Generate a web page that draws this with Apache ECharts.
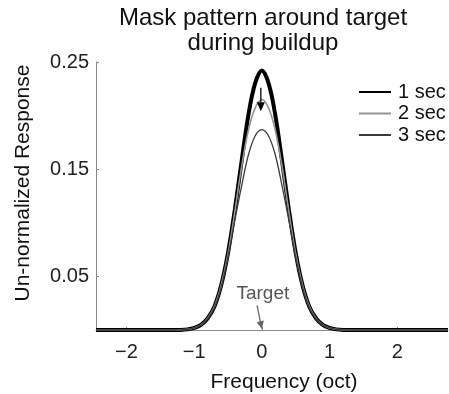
<!DOCTYPE html>
<html>
<head>
<meta charset="utf-8">
<script src="https://cdn.jsdelivr.net/npm/echarts@6/dist/echarts.min.js"></script>
<style>
html,body{margin:0;padding:0;background:#fff;}
#c{width:449px;height:394px;}
</style>
</head>
<body>
<div id="c"></div>
<script>
// Frequency (oct) sample positions
const xs = [-2.45, -1.6, -1.3, -1.2, -1.1, -1.0, -0.9, -0.8, -0.7, -0.6, -0.5, -0.4, -0.3, -0.2, -0.1, 0,
            0.1, 0.2, 0.3, 0.4, 0.5, 0.6, 0.7, 0.8, 0.9, 1.0, 1.1, 1.2, 1.3, 1.6, 2.75];
// Un-normalized response
const sec1 = [0, 0, 0, 0.0001, 0.0006, 0.0019, 0.0047, 0.011, 0.022, 0.042, 0.072, 0.112, 0.157, 0.200, 0.230, 0.242,
              0.230, 0.200, 0.157, 0.112, 0.072, 0.042, 0.022, 0.011, 0.0047, 0.0019, 0.0006, 0.0001, 0, 0, 0];
const sec2 = [0, 0, 0, 0.0001, 0.0006, 0.0019, 0.0047, 0.011, 0.022, 0.042, 0.071, 0.110, 0.152, 0.186, 0.207, 0.215,
              0.207, 0.186, 0.152, 0.110, 0.071, 0.042, 0.022, 0.011, 0.0047, 0.0019, 0.0006, 0.0001, 0, 0, 0];
const sec3 = [0, 0, 0, 0.0001, 0.0006, 0.0019, 0.0047, 0.0105, 0.021, 0.040, 0.068, 0.102, 0.134, 0.163, 0.181, 0.187,
              0.181, 0.163, 0.134, 0.102, 0.068, 0.040, 0.021, 0.0105, 0.0047, 0.0019, 0.0006, 0.0001, 0, 0, 0];
const seriesNames = ['1 sec', '2 sec', '3 sec'];
const yTicks = [0.05, 0.15, 0.25];
const xTicks = [-2, -1, 0, 1, 2];
// annotation anchor points (data space)
const targetArrow = [[-0.07, 0.023], [0, 0.0008]];
const peakArrow = [[-0.015, 0.226], [-0.015, 0.204]];
const targetLabel = [0.015, 0.0335];

const FONT = '"Liberation Sans", Arial, sans-serif';
const pair = (arr) => xs.map((x, i) => [x, arr[i]]);

const chart = echarts.init(document.getElementById('c'), null, {renderer: 'canvas'});
chart.setOption({
  animation: false,
  backgroundColor: '#fff',
  title: {
    text: 'Mask pattern around target\nduring buildup',
    left: 258, top: 1, textAlign: 'center',
    textStyle: {fontFamily: FONT, fontSize: 24, fontWeight: 'normal', color: '#111', lineHeight: 25}
  },
  legend: {
    data: seriesNames,
    orient: 'vertical', left: 358, top: 82, padding: 0,
    itemWidth: 32, itemHeight: 14, itemGap: 1.5,
    itemStyle: {opacity: 0},
    textStyle: {fontFamily: FONT, fontSize: 20, color: '#111', padding: [0,0,0,2]}
  },
  grid: {left: 96, right: 1, top: 62, bottom: 64, containLabel: false, outerBoundsMode: 'none'},
  xAxis: {
    type: 'value', min: -2.45, max: 2.75,
    name: 'Frequency (oct)', nameLocation: 'middle', nameGap: 42,
    nameTextStyle: {fontFamily: FONT, fontSize: 21, color: '#111', padding: [0,0,0,24]},
    axisLine: {onZero: false, lineStyle: {color: '#888', width: 1}},
    axisTick: {show: true, inside: true, length: 3, customValues: xTicks, lineStyle: {color: '#888'}},
    axisLabel: {customValues: xTicks, margin: 12, fontFamily: FONT, fontSize: 20, color: '#222',
      formatter: v => (v < 0 ? '\u2212' + Math.abs(v) : String(v))},
    splitLine: {show: false}
  },
  yAxis: {
    type: 'value', min: 0, max: 0.25,
    name: 'Un-normalized Response', nameLocation: 'middle', nameGap: 62,
    nameTextStyle: {fontFamily: FONT, fontSize: 21, color: '#111', padding: [0,0,0,26]},
    axisLine: {show: true, onZero: false, lineStyle: {color: '#888', width: 1}},
    axisTick: {show: true, inside: true, length: 3, customValues: yTicks, lineStyle: {color: '#888'}},
    axisLabel: {customValues: yTicks, margin: 7, fontFamily: FONT, fontSize: 20, color: '#222',
      formatter: v => v.toFixed(2)},
    splitLine: {show: false}
  },
  series: [
    {
      name: '1 sec', type: 'line', data: pair(sec1), smooth: 0.35, symbol: 'none',
      lineStyle: {color: '#000', width: 4}, itemStyle: {color: '#000'}, z: 2
    },
    {
      name: '2 sec', type: 'line', data: pair(sec2), smooth: 0.35, symbol: 'none',
      lineStyle: {color: '#959595', width: 1.6}, itemStyle: {color: '#959595'}, z: 3
    },
    {
      name: '3 sec', type: 'line', data: pair(sec3), smooth: 0.35, symbol: 'none',
      lineStyle: {color: '#3a3a3a', width: 1.3}, itemStyle: {color: '#3a3a3a'}, z: 4
    }
  ]
});

function arrow(from, to, color, head) {
  const a = chart.convertToPixel({gridIndex: 0}, from);
  const b = chart.convertToPixel({gridIndex: 0}, to);
  const dx = b[0] - a[0], dy = b[1] - a[1];
  const L = Math.sqrt(dx * dx + dy * dy);
  const ux = dx / L, uy = dy / L;
  const bx = b[0] - ux * head, by = b[1] - uy * head;
  const w = head * 0.45;
  return [
    {type: 'line', z: 100, shape: {x1: a[0], y1: a[1], x2: bx, y2: by},
     style: {stroke: color, lineWidth: 1.3}},
    {type: 'polygon', z: 100, shape: {points: [[b[0], b[1]], [bx - uy * w, by + ux * w], [bx + uy * w, by - ux * w]]},
     style: {fill: color}}
  ];
}
const lp = chart.convertToPixel({gridIndex: 0}, targetLabel);
chart.setOption({
  graphic: [
    ...arrow(targetArrow[0], targetArrow[1], '#666', 8),
    ...arrow(peakArrow[0], peakArrow[1], '#000', 9),
    {type: 'text', z: 100, x: lp[0], y: lp[1],
     style: {text: 'Target', font: '19px ' + FONT, fill: '#555', align: 'center', verticalAlign: 'middle'}}
  ]
});
</script>
</body>
</html>
